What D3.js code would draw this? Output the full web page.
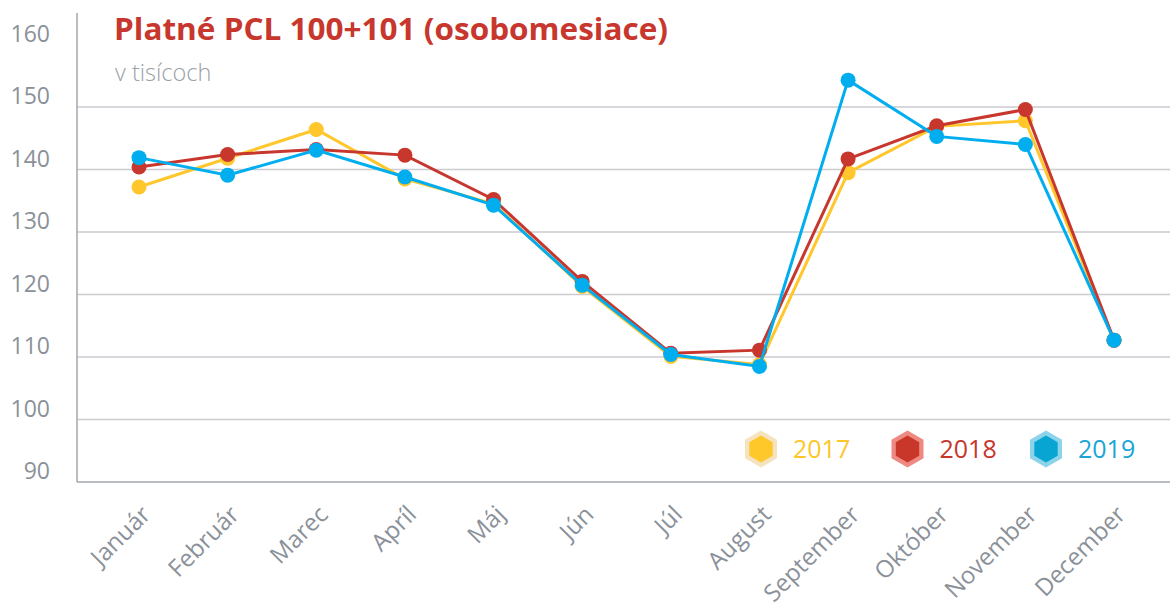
<!DOCTYPE html>
<html>
<head>
<meta charset="utf-8">
<script src="https://cdn.jsdelivr.net/npm/d3@7"></script>
<style>
    body { margin: 0; background: #fff; }
    text { font-family: "Open Sans", "Noto Sans", sans-serif; }
</style>
</head>
<body>
<svg class="chart"></svg>
<script>
var width = 1170;
var height = 610;

// data (thousands)
var months = ["Január", "Február", "Marec", "Apríl", "Máj", "Jún", "Júl", "August", "September", "Október", "November", "December"];
var years = ["2017", "2018", "2019"];
var values2017 = [137.2, 141.8, 146.4, 138.5, 134.5, 121.3, 110.1, 108.8, 139.5, 146.9, 147.8, 112.7];
var values2018 = [140.4, 142.4, 143.2, 142.3, 135.2, 122.1, 110.6, 111.1, 141.7, 147.0, 149.6, 112.7];
var values2019 = [141.9, 139.1, 143.1, 138.8, 134.3, 121.5, 110.4, 108.5, 154.3, 145.3, 144.0, 112.7];
var yTicks = [90, 100, 110, 120, 130, 140, 150, 160];
var gridTicks = [100, 110, 120, 130, 140, 150];

var lineColors = ["#ffc72c", "#c8372d", "#00aeef"];
var legendFill = ["#fec82a", "#c8372a", "#08a5d2"];
var legendHalo = ["#f5e3c0", "#ee8a82", "#8dd3ea"];
var legendText = ["#fdc62a", "#c7352b", "#1aa5d6"];
var greyText = "#8b9199";

var series = [values2017, values2018, values2019];

var chart = d3.select(".chart")
    .attr("width", width)
    .attr("height", height);

var x = d3.scalePoint()
    .domain(months)
    .range([139, 1114]);

var y = d3.scaleLinear()
    .domain([90, 160])
    .range([482, 44.5]);

var axisLeft = 77;

// gridlines
chart.selectAll("line.grid")
    .data(gridTicks)
    .enter()
    .append("line")
    .attr("class", "grid")
    .attr("x1", axisLeft)
    .attr("x2", width)
    .attr("y1", function(d) { return y(d); })
    .attr("y2", function(d) { return y(d); })
    .attr("stroke", "#cbcbd0")
    .attr("stroke-width", 1.5);

// axis lines
chart.append("line")
    .attr("x1", axisLeft).attr("x2", axisLeft)
    .attr("y1", 13).attr("y2", y(90))
    .attr("stroke", "#a3a7ac")
    .attr("stroke-width", 1.5);

chart.append("line")
    .attr("x1", axisLeft).attr("x2", width)
    .attr("y1", y(90)).attr("y2", y(90))
    .attr("stroke", "#a3a7ac")
    .attr("stroke-width", 1.5);

// y tick labels
chart.selectAll("text.ylab")
    .data(yTicks)
    .enter()
    .append("text")
    .attr("class", "ylab")
    .attr("x", 50)
    .attr("y", function(d) { return y(d) - 3; })
    .attr("text-anchor", "end")
    .attr("fill", greyText)
    .style("font-size", "23px")
    .text(function(d) { return d; });

// x tick labels, rotated
chart.selectAll("text.xlab")
    .data(months)
    .enter()
    .append("text")
    .attr("class", "xlab")
    .attr("text-anchor", "end")
    .attr("transform", function(d) { return "translate(" + (x(d) + 13) + ",516) rotate(-45)"; })
    .attr("fill", greyText)
    .style("font-size", "24px")
    .text(function(d) { return d; });

// title
chart.append("text")
    .attr("x", 114)
    .attr("y", 40)
    .attr("fill", "#c8372d")
    .attr("textLength", 554)
    .attr("lengthAdjust", "spacingAndGlyphs")
    .style("font-size", "31px")
    .style("font-weight", "bold")
    .text("Platné PCL 100+101 (osobomesiace)");

chart.append("text")
    .attr("x", 115)
    .attr("y", 81)
    .attr("fill", "#9a9fa6")
    .style("font-size", "23.5px")
    .style("font-weight", "300")
    .text("v tisícoch");

// lines and dots
var line = d3.line()
    .x(function(d, i) { return x(months[i]); })
    .y(function(d) { return y(d); });

var g = chart.append("g");

series.forEach(function(vals, k) {
    g.append("path")
        .datum(vals)
        .attr("d", line)
        .attr("fill", "none")
        .attr("stroke", lineColors[k])
        .attr("stroke-width", 3);

    g.selectAll("circle.s" + k)
        .data(vals)
        .enter()
        .append("circle")
        .attr("class", "s" + k)
        .attr("cx", function(d, i) { return x(months[i]); })
        .attr("cy", function(d) { return y(d); })
        .attr("r", 7.5)
        .attr("fill", lineColors[k]);
});

// legend with hexagons
var legendX = [761, 907.5, 1046];

function hexPoints(cx, cy, r) {
    var pts = [];
    for (var i = 0; i < 6; i++) {
        var a = Math.PI / 3 * i - Math.PI / 2;
        pts.push([cx + r * Math.cos(a), cy + r * Math.sin(a)].join(","));
    }
    return pts.join(" ");
}

var legend = chart.selectAll("g.legend")
    .data(years)
    .enter()
    .append("g")
    .attr("class", "legend");

legend.append("polygon")
    .attr("points", function(d, i) { return hexPoints(legendX[i], 449, 18.5); })
    .attr("fill", function(d, i) { return legendHalo[i]; });

legend.append("polygon")
    .attr("points", function(d, i) { return hexPoints(legendX[i], 449, 13.5); })
    .attr("fill", function(d, i) { return legendFill[i]; });

legend.append("text")
    .attr("x", function(d, i) { return legendX[i] + 32; })
    .attr("y", 458)
    .attr("fill", function(d, i) { return legendText[i]; })
    .style("font-size", "25px")
    .text(function(d) { return d; });
</script>
</body>
</html>
